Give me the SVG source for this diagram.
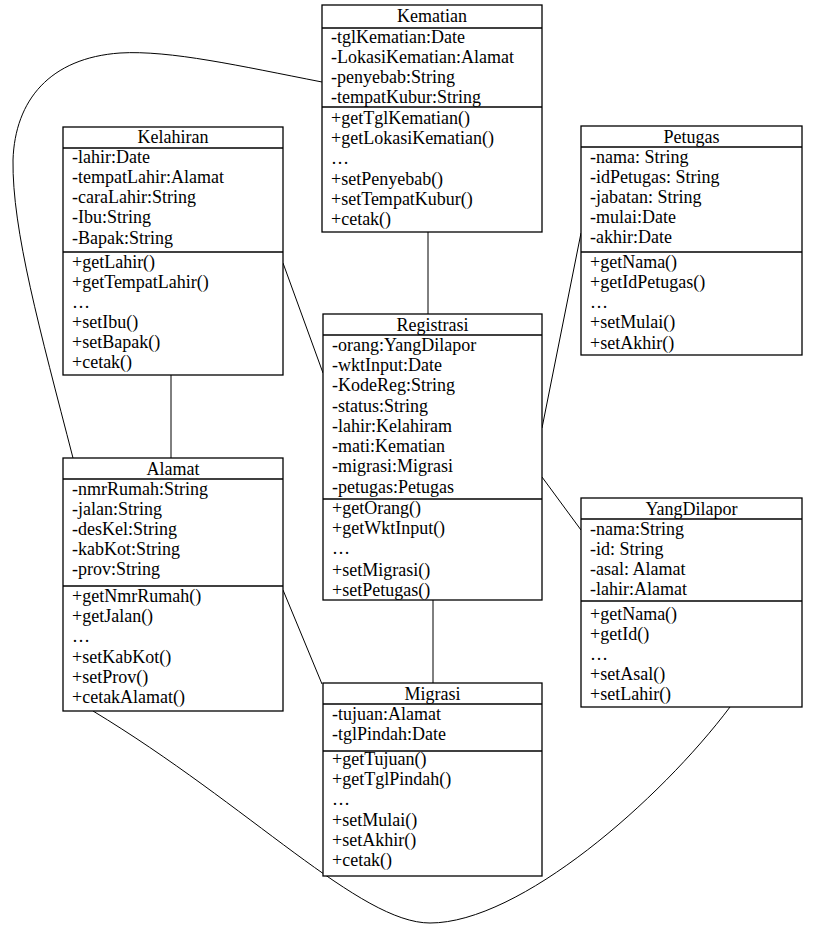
<svg xmlns="http://www.w3.org/2000/svg" width="825" height="937" viewBox="0 0 825 937">
<style>
text{font-family:"Liberation Serif","Times New Roman",serif;font-size:18px;fill:#000}
.t{text-anchor:middle}
.box{fill:#fff;stroke:#000;stroke-width:1.3}
.sep{stroke:#000;stroke-width:1.3}
.c{fill:none;stroke:#000;stroke-width:1}
</style>
<rect width="825" height="937" fill="#fff"/>
<g id="connectors">
<path class="c" d="M322,82 C240,66 170,50 120,53 C50,58 15,100 13,160 C12,230 40,330 73,458"/>
<path class="c" d="M93,711 C250,806 360,923 430,923 C520,923 660,800 730,707"/>
<line class="c" x1="428" y1="232" x2="428" y2="314"/>
<line class="c" x1="171" y1="375" x2="171" y2="458"/>
<line class="c" x1="283" y1="263" x2="323" y2="373"/>
<line class="c" x1="581" y1="233" x2="542" y2="428"/>
<line class="c" x1="542" y1="477" x2="581" y2="530"/>
<line class="c" x1="433" y1="600" x2="433" y2="683"/>
<line class="c" x1="283" y1="590" x2="322" y2="684"/>
</g>
<g id="Kematian">
<rect class="box" x="322" y="5" width="220" height="227"/>
<line class="sep" x1="322" y1="28" x2="542" y2="28"/>
<line class="sep" x1="322" y1="107" x2="542" y2="107"/>
<text class="t" x="432" y="22">Kematian</text>
<text x="331" y="43">-tglKematian:Date</text>
<text x="331" y="63">-LokasiKematian:Alamat</text>
<text x="331" y="83">-penyebab:String</text>
<text x="331" y="103">-tempatKubur:String</text>
<text x="331" y="124">+getTglKematian()</text>
<text x="331" y="144">+getLokasiKematian()</text>
<text x="331" y="164">…</text>
<text x="331" y="185">+setPenyebab()</text>
<text x="331" y="205">+setTempatKubur()</text>
<text x="331" y="225">+cetak()</text>
</g>
<g id="Kelahiran">
<rect class="box" x="63" y="127" width="220" height="248"/>
<line class="sep" x1="63" y1="148" x2="283" y2="148"/>
<line class="sep" x1="63" y1="252" x2="283" y2="252"/>
<text class="t" x="173" y="143">Kelahiran</text>
<text x="72" y="163">-lahir:Date</text>
<text x="72" y="183">-tempatLahir:Alamat</text>
<text x="72" y="203">-caraLahir:String</text>
<text x="72" y="223">-Ibu:String</text>
<text x="72" y="244">-Bapak:String</text>
<text x="72" y="268">+getLahir()</text>
<text x="72" y="288">+getTempatLahir()</text>
<text x="72" y="308">…</text>
<text x="72" y="328">+setIbu()</text>
<text x="72" y="348">+setBapak()</text>
<text x="72" y="368">+cetak()</text>
</g>
<g id="Petugas">
<rect class="box" x="581" y="126" width="221" height="229"/>
<line class="sep" x1="581" y1="147" x2="802" y2="147"/>
<line class="sep" x1="581" y1="252" x2="802" y2="252"/>
<text class="t" x="691.5" y="143">Petugas</text>
<text x="590" y="163">-nama: String</text>
<text x="590" y="183">-idPetugas: String</text>
<text x="590" y="203">-jabatan: String</text>
<text x="590" y="223">-mulai:Date</text>
<text x="590" y="243">-akhir:Date</text>
<text x="590" y="268">+getNama()</text>
<text x="590" y="288">+getIdPetugas()</text>
<text x="590" y="308">…</text>
<text x="590" y="328">+setMulai()</text>
<text x="590" y="349">+setAkhir()</text>
</g>
<g id="Registrasi">
<rect class="box" x="323" y="314" width="219" height="286"/>
<line class="sep" x1="323" y1="335" x2="542" y2="335"/>
<line class="sep" x1="323" y1="499" x2="542" y2="499"/>
<text class="t" x="432.5" y="331">Registrasi</text>
<text x="332" y="351">-orang:YangDilapor</text>
<text x="332" y="371">-wktInput:Date</text>
<text x="332" y="391">-KodeReg:String</text>
<text x="332" y="412">-status:String</text>
<text x="332" y="432">-lahir:Kelahiram</text>
<text x="332" y="452">-mati:Kematian</text>
<text x="332" y="472">-migrasi:Migrasi</text>
<text x="332" y="493">-petugas:Petugas</text>
<text x="332" y="514">+getOrang()</text>
<text x="332" y="534">+getWktInput()</text>
<text x="332" y="554">…</text>
<text x="332" y="576">+setMigrasi()</text>
<text x="332" y="596">+setPetugas()</text>
</g>
<g id="Alamat">
<rect class="box" x="63" y="458" width="220" height="253"/>
<line class="sep" x1="63" y1="479" x2="283" y2="479"/>
<line class="sep" x1="63" y1="586" x2="283" y2="586"/>
<text class="t" x="173" y="475">Alamat</text>
<text x="72" y="495">-nmrRumah:String</text>
<text x="72" y="515">-jalan:String</text>
<text x="72" y="535">-desKel:String</text>
<text x="72" y="555">-kabKot:String</text>
<text x="72" y="575">-prov:String</text>
<text x="72" y="602">+getNmrRumah()</text>
<text x="72" y="622">+getJalan()</text>
<text x="72" y="642">…</text>
<text x="72" y="663">+setKabKot()</text>
<text x="72" y="683">+setProv()</text>
<text x="72" y="703">+cetakAlamat()</text>
</g>
<g id="YangDilapor">
<rect class="box" x="581" y="498" width="221" height="209"/>
<line class="sep" x1="581" y1="519" x2="802" y2="519"/>
<line class="sep" x1="581" y1="601" x2="802" y2="601"/>
<text class="t" x="691.5" y="515">YangDilapor</text>
<text x="590" y="535">-nama:String</text>
<text x="590" y="555">-id: String</text>
<text x="590" y="575">-asal: Alamat</text>
<text x="590" y="595">-lahir:Alamat</text>
<text x="590" y="620">+getNama()</text>
<text x="590" y="640">+getId()</text>
<text x="590" y="660">…</text>
<text x="590" y="680">+setAsal()</text>
<text x="590" y="700">+setLahir()</text>
</g>
<g id="Migrasi">
<rect class="box" x="323" y="683" width="219" height="193"/>
<line class="sep" x1="323" y1="704" x2="542" y2="704"/>
<line class="sep" x1="323" y1="751" x2="542" y2="751"/>
<text class="t" x="432.5" y="700">Migrasi</text>
<text x="332" y="720">-tujuan:Alamat</text>
<text x="332" y="740">-tglPindah:Date</text>
<text x="332" y="765">+getTujuan()</text>
<text x="332" y="785">+getTglPindah()</text>
<text x="332" y="805">…</text>
<text x="332" y="826">+setMulai()</text>
<text x="332" y="846">+setAkhir()</text>
<text x="332" y="866">+cetak()</text>
</g>
</svg>
